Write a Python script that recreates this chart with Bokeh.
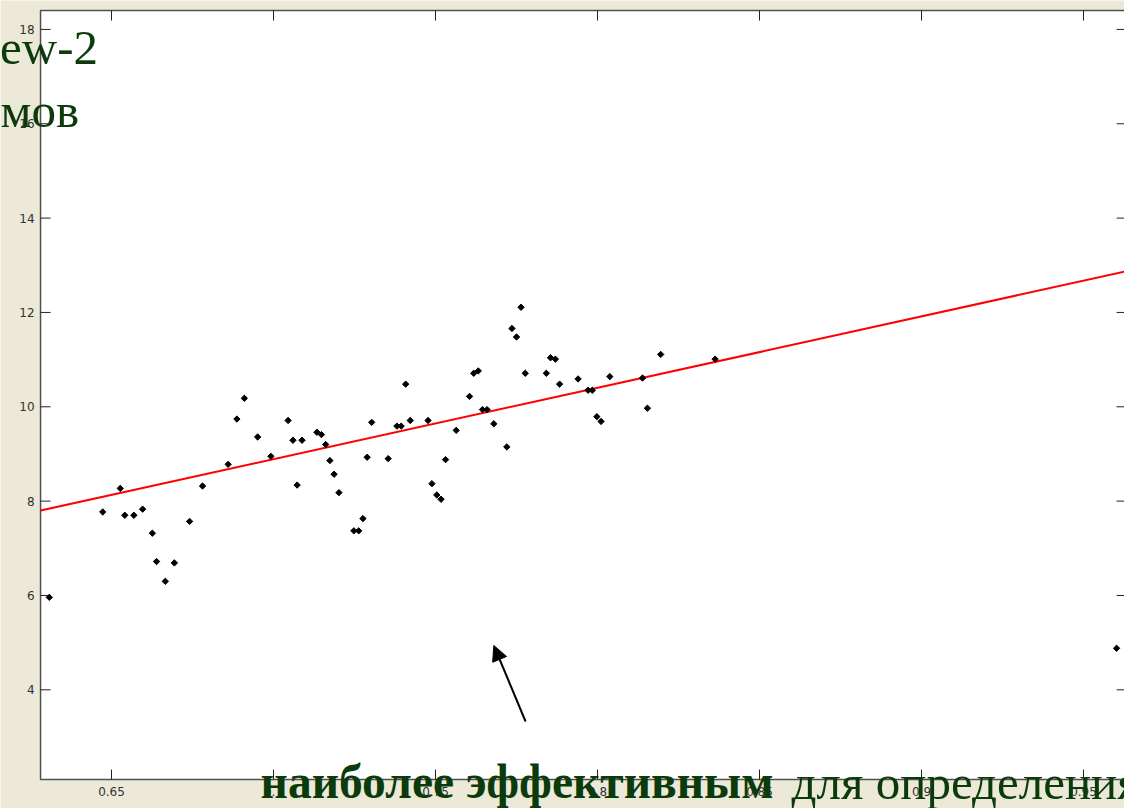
from bokeh.plotting import figure
from bokeh.models import Range1d, Label, Arrow, NormalHead
from bokeh.core.properties import value
from bokeh.embed import file_html
from bokeh.resources import INLINE

# ---- data ----
x_vals = [0.6308, 0.6473, 0.6527, 0.6541, 0.6569, 0.6596, 0.6626, 0.6639, 0.6666, 0.6694,
          0.6741, 0.6781, 0.6860, 0.6887, 0.6910, 0.6951, 0.6992, 0.7045, 0.7060, 0.7073,
          0.7088, 0.7134, 0.7148, 0.7161, 0.7174, 0.7187, 0.7202, 0.7248, 0.7263, 0.7276,
          0.7289, 0.7303, 0.7354, 0.7381, 0.7394, 0.7408, 0.7422, 0.7477, 0.7489, 0.7504,
          0.7517, 0.7531, 0.7564, 0.7605, 0.7618, 0.7632, 0.7645, 0.7659, 0.7680, 0.7720,
          0.7736, 0.7750, 0.7764, 0.7777, 0.7842, 0.7855, 0.7870, 0.7883, 0.7940, 0.7971,
          0.7984, 0.7998, 0.8011, 0.8038, 0.8139, 0.8154, 0.8195, 0.8363, 0.9602]
y_vals = [5.96, 7.77, 8.27, 7.70, 7.70, 7.83, 7.32, 6.72, 6.30, 6.69,
          7.57, 8.32, 8.78, 9.74, 10.18, 9.36, 8.95, 9.71, 9.29, 8.34,
          9.29, 9.46, 9.41, 9.20, 8.86, 8.57, 8.18, 7.37, 7.37, 7.63,
          8.93, 9.67, 8.90, 9.59, 9.59, 10.48, 9.71, 9.71, 8.37, 8.13,
          8.04, 8.88, 9.50, 10.22, 10.71, 10.76, 9.94, 9.94, 9.64, 9.15,
          11.66, 11.48, 12.11, 10.71, 10.71, 11.04, 11.01, 10.48, 10.59, 10.35,
          10.35, 9.79, 9.69, 10.64, 10.61, 9.97, 11.11, 11.01, 4.88]

# least-squares line as drawn (values at the axis limits)
fit_x = [0.6281, 0.9630]
fit_y = [7.80, 12.87]

# axis limits of the MATLAB plot
xlim = [0.6281, 0.9630]
ylim = [2.098, 18.40]

x_ticks = [0.65, 0.7, 0.75, 0.8, 0.85, 0.9, 0.95]
x_tick_labels = ["0.65", "0.7", "0.75", "0.8", "0.85", "0.9", "0.95"]
y_ticks = [4, 6, 8, 10, 12, 14, 16, 18]
y_tick_labels = ["4", "6", "8", "10", "12", "14", "16", "18"]

title_top = "ew-2"
title_top2 = "мов"
caption_bold = "наиболее эффективным"
caption_rest = "для определения"

# visible part of the slide, in data units (the chart is a crop of a slide)
view_x = [0.61574, 0.96265]
view_y = [1.4836, 18.6133]

W, H = 1124, 808
BG = "#ECE9D8"
GREEN = "#0B3B0B"
SPINE = "#505050"
TICK = "#222222"
TICK_PX = 10

p = figure(width=W, height=H,
           x_range=Range1d(*view_x), y_range=Range1d(*view_y),
           output_backend="svg", toolbar_location=None,
           x_axis_location=None, y_axis_location=None,
           min_border=0, min_border_left=0, min_border_right=0,
           min_border_top=0, min_border_bottom=0,
           border_fill_color=BG, background_fill_color=BG, outline_line_color=None)
p.xgrid.visible = False
p.ygrid.visible = False

# white axes box with its frame lines
p.quad(left=[xlim[0]], right=[xlim[1]], bottom=[ylim[0]], top=[ylim[1]],
       fill_color="white", line_color=SPINE, line_width=1.5)

# inward ticks on all four sides
dx = TICK_PX * (view_x[1] - view_x[0]) / W
dy = TICK_PX * (view_y[1] - view_y[0]) / H
nx, ny = len(x_ticks), len(y_ticks)
p.segment(x0=x_ticks, y0=[ylim[0]] * nx, x1=x_ticks, y1=[ylim[0] + dy] * nx,
          line_color=TICK, line_width=1)
p.segment(x0=x_ticks, y0=[ylim[1]] * nx, x1=x_ticks, y1=[ylim[1] - dy] * nx,
          line_color=TICK, line_width=1)
p.segment(x0=[xlim[0]] * ny, y0=y_ticks, x1=[xlim[0] + dx] * ny, y1=y_ticks,
          line_color=TICK, line_width=1)
p.segment(x0=[xlim[1]] * ny, y0=y_ticks, x1=[xlim[1] - 0.9 * dx] * ny, y1=y_ticks,
          line_color=TICK, line_width=1)

# tick labels
p.text(x=x_ticks, y=[ylim[0]] * nx, text=x_tick_labels, y_offset=7,
       text_align="center", text_baseline="top",
       text_font=value("DejaVu Sans"), text_font_size="12px", text_color="#333333")
p.text(x=[xlim[0]] * ny, y=y_ticks, text=y_tick_labels, x_offset=-6,
       text_align="right", text_baseline="middle",
       text_font=value("DejaVu Sans"), text_font_size="12px", text_color="#333333")

# data
p.line(fit_x, fit_y, line_color="red", line_width=2)
p.scatter(x_vals, y_vals, marker="square", angle=0.785, size=4.5, color="black")

p.add_layout(Arrow(end=NormalHead(size=15, fill_color="black", line_color="black"),
                   x_start=0.7778, y_start=3.328, x_end=0.7680, y_end=4.939,
                   line_color="black", line_width=2))

# slide texts overlaid on the chart
for txt, x, y, style, size in [(title_top, 0.61560, 17.617, "normal", "49px"),
                               (title_top2, 0.61574, 16.281, "normal", "49px"),
                               (caption_bold, 0.69599, 2.035, "bold", "47.5px"),
                               (caption_rest, 0.85988, 2.035, "normal", "49px")]:
    p.add_layout(Label(x=x, y=y, text=txt,
                       text_font="Liberation Serif", text_font_size=size,
                       text_font_style=style, text_color=GREEN,
                       text_baseline="alphabetic"))

open("out.html", "w").write(file_html(p, INLINE))
